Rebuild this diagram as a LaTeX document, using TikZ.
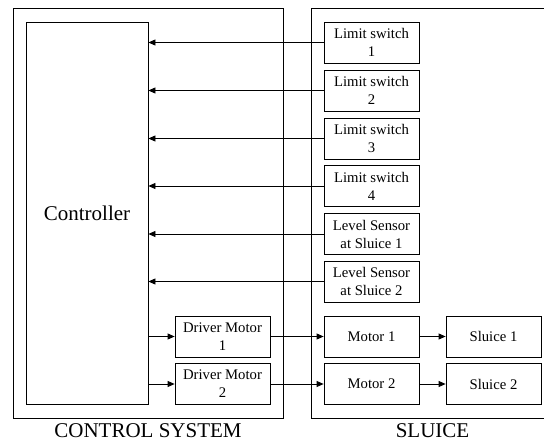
\documentclass[tikz,border=0pt]{standalone}
\usepackage{fontspec}
\setmainfont{Liberation Serif}
\newfontfamily\tms{Liberation Serif}
\usetikzlibrary{arrows.meta}
\begin{document}
\begin{tikzpicture}[x=1pt,y=-1pt,
  box/.style={draw, line width=0.8pt, inner sep=0pt, minimum width=95pt, minimum height=41pt,
    align=center, font=\tms\fontsize{14.7}{18}\selectfont},
  frame/.style={draw, line width=0.8pt, inner sep=0pt},
  big/.style={font=\tms\fontsize{21}{24}\selectfont},
  arr/.style={line width=0.8pt, -{Triangle[length=7pt,width=6pt]}}]
\useasboundingbox (0,0) rectangle (544,441);
% frames
\node[frame, minimum width=270pt, minimum height=410pt] (csys) at (148,213) {};
\node[frame, minimum width=235pt, minimum height=410pt] (sys2) at (428.5,213) {};
\node[big, anchor=base, inner sep=0pt] (lcs) at (148,437) {CONTROL SYSTEM};
\node[big, anchor=base, inner sep=0pt] (lsl) at (432.5,437) {SLUICE};
% controller
\node[frame, minimum width=122pt, minimum height=382pt, big] (ctrl) at (87,213) {Controller};
% inputs
\node[box] (ls1) at (371.5,42.5) {Limit switch\\1};
\node[box] (ls2) at (371.5,90.5) {Limit switch\\2};
\node[box] (ls3) at (371.5,138.5) {Limit switch\\3};
\node[box] (ls4) at (371.5,186) {Limit switch\\4};
\node[box] (lv1) at (371.5,234) {Level Sensor\\at Sluice 1};
\node[box] (lv2) at (371.5,281.5) {Level Sensor\\at Sluice 2};
% outputs
\node[box] (d1) at (222.5,336.5) {Driver Motor\\1};
\node[box] (d2) at (222.5,384) {Driver Motor\\2};
\node[box] (m1) at (371.5,336.5) {Motor 1};
\node[box] (m2) at (371.5,384) {Motor 2};
\node[box] (s1) at (493.5,336.5) {Sluice 1};
\node[box] (s2) at (493.5,384) {Sluice 2};
% connectors
\foreach \n in {ls1,ls2,ls3,ls4,lv1,lv2}
  \draw[arr] (\n.west) -- (\n.west -| ctrl.east);
\draw[arr] (d1.west -| ctrl.east) -- (d1.west);
\draw[arr] (d2.west -| ctrl.east) -- (d2.west);
\draw[arr] (d1) -- (m1);
\draw[arr] (d2) -- (m2);
\draw[arr] (m1) -- (s1);
\draw[arr] (m2) -- (s2);
\end{tikzpicture}
\end{document}
